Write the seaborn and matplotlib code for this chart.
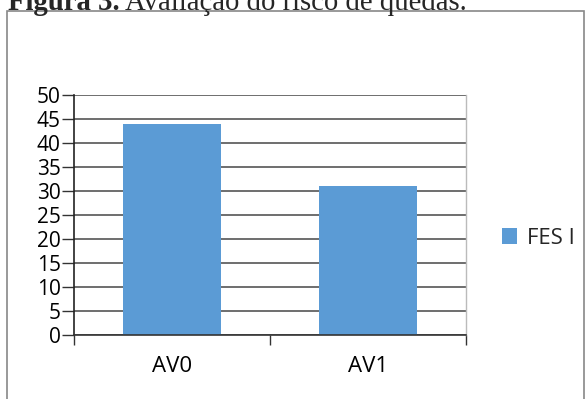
import matplotlib
matplotlib.use("Agg")
import matplotlib.pyplot as plt
import seaborn as sns
import pandas as pd
from matplotlib.patches import Rectangle

categories = ["AV0", "AV1"]
values = [44, 31]
series = "FES I"
yticks = [0, 5, 10, 15, 20, 25, 30, 35, 40, 45, 50]

sns.set_theme(style="white")
plt.rcParams['font.family'] = ['Open Sans', 'DejaVu Sans']

df = pd.DataFrame({"cat": categories, "val": values, "series": [series] * len(categories)})

W, H = 585, 399
fig = plt.figure(figsize=(W / 100, H / 100), dpi=100)
ax = fig.add_axes([74 / W, 1 - 335 / H, (466 - 74) / W, (335 - 95) / H])

sns.barplot(data=df, x="cat", y="val", hue="series", order=categories,
            palette=["#5B9BD5"], dodge=False, width=0.5, ax=ax,
            edgecolor="none", linewidth=0, saturation=1)

ax.set_ylim(0, 50)
ax.set_xlim(-0.5, len(categories) - 0.5)
ax.set_yticks(yticks)
ax.set_yticklabels([str(t) for t in yticks], fontsize=15, color="#000000")
ax.set_xlabel("")
ax.set_ylabel("")
ax.yaxis.grid(True, color="#555555", linewidth=1.2)
ax.set_axisbelow(True)

ax.tick_params(axis="y", direction="out", length=8.5, width=1, color="#333333", pad=1, left=True)
ax.tick_params(axis="x", which="major", length=0, labelsize=16, pad=15, colors="#000000")
ax.set_xticks(range(len(categories)))
ax.set_xticklabels(categories)
ax.set_xticks([i - 0.5 for i in range(len(categories) + 1)], minor=True)
ax.tick_params(axis="x", which="minor", direction="out", length=7, width=1, color="#333333", bottom=True)

ax.spines["top"].set_visible(False)
ax.spines["left"].set_color("#222222")
ax.spines["left"].set_linewidth(1.2)
ax.spines["bottom"].set_color("#333333")
ax.spines["bottom"].set_linewidth(1.2)
ax.spines["right"].set_color("#BBBBBB")
ax.spines["right"].set_linewidth(1)

leg = ax.legend(loc="center left", bbox_to_anchor=(491 / W, 1 - 238 / H),
                bbox_transform=fig.transFigure, frameon=False, fontsize=16,
                handlelength=0.68, handleheight=0.75, handletextpad=0.45, borderpad=0)

# outer frame
fig.patches.append(Rectangle((7 / W, -0.1), (584 - 7) / W, 1.1 - 11 / H,
                             transform=fig.transFigure, fill=False,
                             edgecolor="#888888", linewidth=1.2))

# title partly cut off at top, as in the reference
t1 = fig.text(8 / W, 1 - 10 / H, "Figura 3.", fontsize=20.7, fontweight="bold",
              family="Liberation Serif", va="baseline", ha="left")
fig.canvas.draw()
bb = t1.get_window_extent()
fig.text(bb.x1 / W + 5 / W, 1 - 10 / H, "Avaliação do risco de quedas.", fontsize=20.7,
         family="Liberation Serif", va="baseline", ha="left")

fig.savefig("out.png", dpi=100)
